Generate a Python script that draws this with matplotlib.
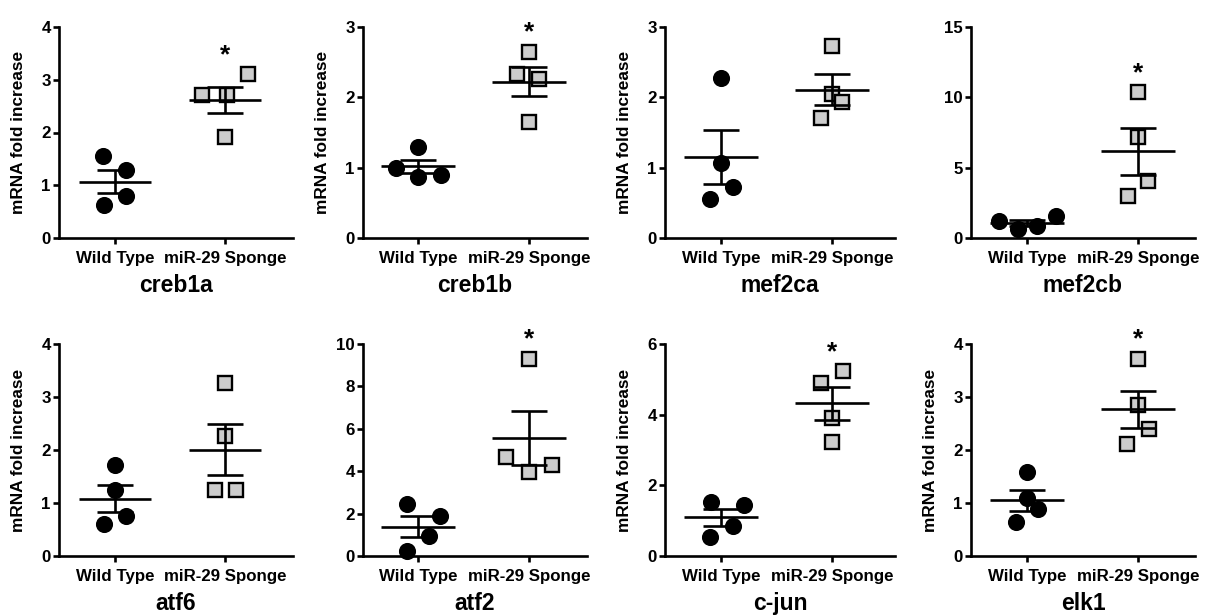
import matplotlib
matplotlib.use("Agg")
import matplotlib.pyplot as plt
import numpy as np

plt.rcParams['font.family'] = ['Liberation Sans', 'DejaVu Sans']
plt.rcParams['font.weight'] = 'bold'

genes = ["creb1a", "creb1b", "mef2ca", "mef2cb", "atf6", "atf2", "c-jun", "elk1"]
groups = ["Wild Type", "miR-29 Sponge"]

wt_values = {
    "creb1a": [1.56, 1.29, 0.63, 0.79],
    "creb1b": [1.30, 1.00, 0.87, 0.90],
    "mef2ca": [2.27, 1.07, 0.72, 0.55],
    "mef2cb": [1.18, 0.64, 0.83, 1.58],
    "atf6":   [1.72, 1.25, 0.76, 0.60],
    "atf2":   [2.46, 1.89, 0.94, 0.25],
    "c-jun":  [1.54, 1.45, 0.85, 0.53],
    "elk1":   [1.59, 1.09, 0.88, 0.65],
}
sponge_values = {
    "creb1a": [2.72, 2.72, 3.11, 1.92],
    "creb1b": [2.65, 2.33, 2.26, 1.65],
    "mef2ca": [2.73, 2.05, 1.94, 1.70],
    "mef2cb": [10.39, 7.20, 4.06, 3.00],
    "atf6":   [3.26, 2.27, 1.25, 1.25],
    "atf2":   [9.31, 4.69, 4.30, 3.98],
    "c-jun":  [5.23, 4.91, 3.90, 3.24],
    "elk1":   [3.72, 2.85, 2.39, 2.12],
}
significant = {"creb1a": True, "creb1b": True, "mef2ca": False, "mef2cb": True,
               "atf6": False, "atf2": True, "c-jun": True, "elk1": True}
y_max = {"creb1a": 4, "creb1b": 3, "mef2ca": 3, "mef2cb": 15,
         "atf6": 4, "atf2": 10, "c-jun": 6, "elk1": 4}
y_step = {"creb1a": 1, "creb1b": 1, "mef2ca": 1, "mef2cb": 5,
          "atf6": 1, "atf2": 2, "c-jun": 2, "elk1": 1}
show_ylabel = {"creb1a": True, "creb1b": True, "mef2ca": True, "mef2cb": False,
               "atf6": True, "atf2": False, "c-jun": True, "elk1": True}

# scatter-dot horizontal spread (layout only)
wt_jitter = {
    "creb1a": [-0.11, 0.10, -0.10, 0.10],
    "creb1b": [0.0, -0.20, 0.0, 0.21],
    "mef2ca": [0.0, 0.0, 0.11, -0.10],
    "mef2cb": [-0.25, -0.085, 0.09, 0.26],
    "atf6":   [0.0, 0.0, 0.10, -0.10],
    "atf2":   [-0.10, 0.20, 0.10, -0.10],
    "c-jun":  [-0.09, 0.21, 0.11, -0.10],
    "elk1":   [0.0, 0.0, 0.10, -0.10],
}
sp_jitter = {
    "creb1a": [-0.21, 0.015, 0.21, 0.0],
    "creb1b": [0.0, -0.11, 0.09, 0.0],
    "mef2ca": [0.0, 0.0, 0.09, -0.10],
    "mef2cb": [0.0, 0.0, 0.09, -0.09],
    "atf6":   [0.0, 0.0, -0.09, 0.10],
    "atf2":   [0.0, -0.21, 0.21, 0.0],
    "c-jun":  [0.10, -0.10, 0.0, 0.0],
    "elk1":   [0.0, 0.0, 0.10, -0.10],
}

W, H = 1212, 616
fig = plt.figure(figsize=(W / 100, H / 100), dpi=100)

col_left = [59, 363, 665, 971]
col_wt = [115, 418, 721, 1027]
col_sp = [225, 529, 832, 1138]
col_right = [293, 587, 895, 1195]
row_top = [27, 344]
row_bottom = [238, 556]

lw = 1.9
for i, g in enumerate(genes):
    r, c = divmod(i, 4)
    l, rr = col_left[c], col_right[c]
    t, b = row_top[r], row_bottom[r]
    ax = fig.add_axes([l / W, 1 - b / H, (rr - l) / W, (b - t) / H])
    unit = col_sp[c] - col_wt[c]
    ax.set_xlim((l - col_wt[c]) / unit, (rr - col_wt[c]) / unit)
    ax.set_ylim(0, y_max[g])

    for xi, vals, jit, mk in [(0, wt_values[g], wt_jitter[g], 'o'),
                              (1, sponge_values[g], sp_jitter[g], 's')]:
        vals = np.array(vals)
        xs = xi + np.array(jit)
        if mk == 'o':
            ax.plot(xs, vals, 'o', ms=11.3, mfc='black', mec='black',
                    clip_on=False, zorder=3)
        else:
            ax.plot(xs, vals, 's', ms=10.5, mfc='#cccccc', mec='black', mew=1.7,
                    clip_on=False, zorder=3)
        m = vals.mean()
        sem = vals.std(ddof=1) / np.sqrt(len(vals))
        ax.plot([xi - 0.33, xi + 0.33], [m, m], color='black', lw=lw, zorder=4,
                solid_capstyle='butt')
        ax.plot([xi, xi], [m - sem, m + sem], color='black', lw=lw, zorder=4,
                solid_capstyle='butt')
        for yy in (m - sem, m + sem):
            ax.plot([xi - 0.165, xi + 0.165], [yy, yy], color='black', lw=lw,
                    zorder=4, solid_capstyle='butt')
    if significant[g]:
        top = max(sponge_values[g])
        ax.text(1, top + y_max[g] * 0.09, "*", ha='center', va='center',
                fontsize=19, fontweight='bold', clip_on=False)

    for s in ['top', 'right']:
        ax.spines[s].set_visible(False)
    for s in ['left', 'bottom']:
        ax.spines[s].set_linewidth(lw)
    ax.set_xticks([0, 1])
    ax.set_xticklabels(groups, fontsize=12.2, fontweight='bold')
    ax.set_yticks(np.arange(0, y_max[g] + 0.001, y_step[g]))
    ax.tick_params(axis='both', width=lw, length=4, labelsize=12.2)
    ax.tick_params(axis='x', pad=5)
    ax.tick_params(axis='y', pad=2)
    ax.set_xlabel(g, fontsize=16.5, fontweight='bold', labelpad=6)
    if show_ylabel[g]:
        ax.set_ylabel("mRNA fold increase", fontsize=12.4, fontweight='bold',
                      labelpad=11)

fig.savefig("out.png", dpi=100)
